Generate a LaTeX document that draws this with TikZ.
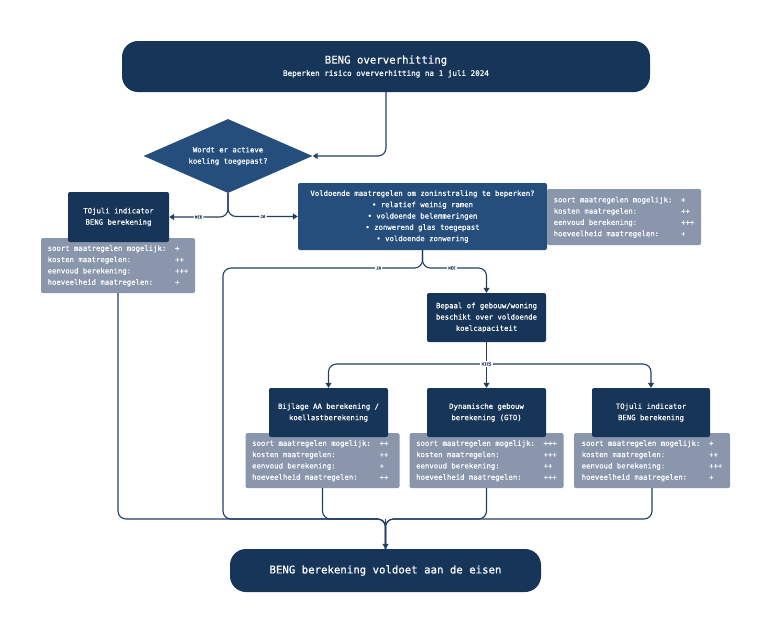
\documentclass[tikz,border=0pt]{standalone}
\usepackage{fontspec}
\setmonofont{DejaVu Sans Mono}[FakeBold=0.5]
\usetikzlibrary{shapes.geometric,arrows.meta}

\definecolor{donkerblauw}{RGB}{23,53,89}
\definecolor{middenblauw}{RGB}{38,78,125}
\definecolor{tabelgrijs}{RGB}{137,150,172}
\definecolor{lijnblauw}{RGB}{36,62,98}

% score table under each method
\newcommand{\scoretabel}[4]{%
  \begin{tabular}{@{}l@{\hspace{8.8pt}}p{13.2pt}@{}}
    soort maatregelen mogelijk: & #1\\
    kosten maatregelen: & #2\\
    eenvoud berekening: & #3\\
    hoeveelheid maatregelen: & #4
  \end{tabular}}

\begin{document}
\begin{tikzpicture}[x=1pt,y=-1pt,
    tekst/.style={text=white, font=\ttfamily\fontsize{7.3}{11.3}\selectfont, align=center, inner sep=0pt},
    blok/.style={tekst, fill=donkerblauw, rounded corners=2pt, minimum width=119pt, minimum height=49pt},
    vraagblok/.style={tekst, fill=middenblauw, rounded corners=2pt},
    keuze/.style={tekst, diamond, aspect=2.3, fill=middenblauw, minimum width=169pt, minimum height=74pt},
    eindblok/.style={tekst, fill=donkerblauw, rounded corners=16pt},
    tabel/.style={tekst, fill=tabelgrijs, rounded corners=1.5pt, minimum width=154pt, minimum height=55pt},
    lijn/.style={draw=lijnblauw, line width=1.1pt, rounded corners=8pt},
    pijl/.style={lijn, -{Triangle[length=5pt,width=6pt]}},
    pijltekst/.style={fill=white, text=lijnblauw, font=\ttfamily\fontsize{4}{4}\selectfont, inner sep=1.2pt}]

    \useasboundingbox (0,0) rectangle (769,622);

    % Start
    \node[eindblok, minimum width=528pt, minimum height=51pt] (start) at (386,66.5)
        {{\fontsize{10.7}{14}\selectfont BENG oververhitting}\\[1pt]{\fontsize{7.6}{9}\selectfont Beperken risico oververhitting na 1 juli 2024}};

    % Actieve koeling?
    \node[keuze] (koeling) at (228,156) {Wordt er actieve\\koeling toegepast?};

    % Tabellen eerst, blokken erover
    \node[tabel] (tabel1) at (118,265.5) {\scoretabel{+}{++}{+++}{+}};
    \node[blok, minimum width=101pt, minimum height=50pt] (tojuli1) at (118.5,217) {TOjuli indicator\\BENG berekening};

    \node[vraagblok, minimum width=249pt, minimum height=67pt] (zon) at (422.5,216.5)
        {Voldoende maatregelen om zoninstraling te beperken?\\
         • relatief weinig ramen\\
         • voldoende belemmeringen\\
         • zonwerend glas toegepast\\
         • voldoende zonwering};
    \node[tabel, minimum height=56pt] (tabel2) at (624,217) {\scoretabel{+}{++}{+++}{+}};

    \node[blok] (bepaal) at (486.5,317.5) {Bepaal of gebouw/woning\\beschikt over voldoende\\koelcapaciteit};

    % Drie rekenmethoden
    \node[tabel] (tabel3) at (322.5,460.5) {\scoretabel{++}{++}{+}{++}};
    \node[tabel] (tabel4) at (486.5,460.5) {\scoretabel{+++}{+++}{++}{+++}};
    \node[tabel, minimum width=156pt] (tabel5) at (652,460.5) {\scoretabel{+}{++}{+++}{+}};
    \node[blok] (bijlage) at (328.5,412.5) {Bijlage AA berekening /\\koellastberekening};
    \node[blok] (gto) at (486.5,412.5) {Dynamische gebouw\\berekening (GTO)};
    \node[blok, minimum width=118pt] (tojuli2) at (651,412.5) {TOjuli indicator\\BENG berekening};

    % Eind
    \node[eindblok, minimum width=311pt, minimum height=43pt, font=\ttfamily\fontsize{10.7}{14}\selectfont] (eind) at (385.5,570.5)
        {BENG berekening voldoet aan de eisen};

    % Hulppunten
    \coordinate (jahoek) at (223,268);
    \coordinate (neehoek) at (bepaal.north |- jahoek);
    \coordinate (kies) at (486.5,364);
    \coordinate (samen) at (385.5,519);

    % Verbindingen bovenin
    \draw[pijl] (start.south) |- (koeling.east);
    \draw[pijl] (koeling.south) |- (tojuli1.east) node[pijltekst, pos=0.75] {NEE};
    \draw[pijl] (koeling.south) |- (zon.west) node[pijltekst, pos=0.75] {JA};
    \draw[pijl] (zon.south) |- (neehoek) node[pijltekst, pos=0.73] {NEE} -- (bepaal.north);

    % Keuze rekenmethode
    \draw[lijn] (bepaal.south) -- (kies);
    \draw[pijl] (bepaal.south) -- (gto.north);
    \draw[pijl] (kies) -| (bijlage.north);
    \draw[pijl] (kies) -| (tojuli2.north);
    \node[pijltekst] (kiestekst) at (kies) {KIES};

    % Alles komt samen
    \draw[lijn] (zon.south) |- (jahoek) node[pijltekst, pos=0.61] {JA} -- (jahoek |- samen) -- (samen) -- (eind.north);
    \draw[lijn] (tabel1.south) |- (samen) -- (eind.north);
    \draw[lijn] (tabel3.south) |- (samen) -- (eind.north);
    \draw[lijn] (tabel4.south) |- (samen) -- (eind.north);
    \draw[lijn] (tabel5.south) |- (samen) -- (eind.north);
    \draw[pijl] (samen) -- (eind.north);
\end{tikzpicture}
\end{document}
